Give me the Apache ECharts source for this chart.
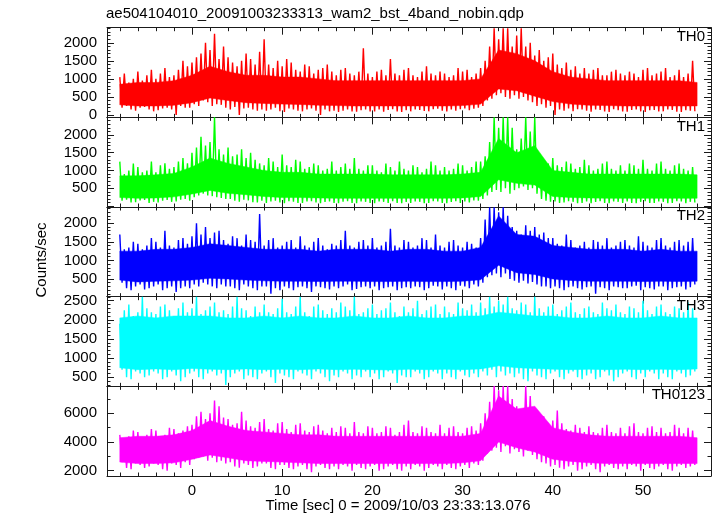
<!DOCTYPE html>
<html>
<head>
<meta charset="utf-8">
<script src="https://cdn.jsdelivr.net/npm/echarts@6/dist/echarts.min.js"></script>
<style>html,body{margin:0;padding:0;background:#fff;}#c{width:717px;height:516px;}</style>
</head>
<body>
<div id="c"></div>
<script>
// ---- data (counts/sec) ----
// spike tips: half-second slots from t=-8 s; upper tip at slot start, lower tip at slot middle
// dense core: upper / lower edge every 2 s from t=-8 s
const fileTitle = 'ae504104010_20091003233313_wam2_bst_4band_nobin.qdp';
const xTitle = 'Time [sec] 0 = 2009/10/03 23:33:13.076';
const yTitle = 'Counts/sec';
const bandNames = ['TH0', 'TH1', 'TH2', 'TH3', 'TH0123'];
const tStart = -8;
const tStep = 0.5;
const coreStep = 2;
const xTickLabels = [0, 10, 20, 30, 40, 50];

const th0Hi = [
 1050, 1150, 900, 1000, 1200, 950, 1100, 1250,
 1000, 1150, 1300, 1050, 1100, 1250, 1500, 1350,
 1450, 1600, 1700, 2000, 1800, 2250, 1550, 1900,
 1600, 1450, 1350, 1500, 1700, 1550, 1400, 1750,
 2100, 1400, 1300, 1500, 1350, 1550, 1450, 1250,
 1200, 1400, 1350, 1150, 1250, 1300, 1400, 1200,
 1100, 1250, 1300, 1150, 1100, 1200, 1850, 1150,
 1050, 1200, 1250, 1100, 1550, 1150, 1100, 1250,
 1300, 1100, 1050, 1200, 1350, 1150, 1100, 1200,
 1150, 1050, 1100, 1300, 1200, 1250, 1050, 1150,
 1300, 1500, 1900, 2400, 2100, 2400, 2400, 1900,
 2200, 2400, 1900, 2000, 1650, 1800, 1500, 1600,
 1700, 1400, 1300, 1450, 1250, 1350, 1150, 1300,
 1150, 1250, 1300, 1100, 1100, 1200, 1250, 1150,
 1100, 1200, 1150, 1050, 1250, 1300, 1100, 1150,
 1200, 1300, 1050, 1100, 1250, 1050, 1150, 1500
];
const th0Lo = [
 200, 250, 150, 120, 200, 220, 150, 100,
 130, 180, 200, 150, 0, 250, 200, 200,
 300, 250, 400, 350, 250, 300, 280, 200,
 150, 220, 0, 180, 200, 150, 120, 150,
 120, 150, 200, 100, 80, 180, 150, 120,
 100, 150, 180, 120, 0, 150, 100, 120,
 80, 120, 150, 100, 90, 130, 150, 100,
 100, 150, 90, 140, 160, 100, 80, 130,
 100, 150, 140, 110, 100, 160, 170, 120,
 100, 150, 120, 160, 180, 130, 170, 200,
 250, 400, 450, 550, 600, 500, 450, 550,
 450, 500, 400, 350, 250, 300, 200, 250,
 0, 150, 120, 180, 100, 160, 150, 120,
 90, 150, 140, 100, 80, 160, 130, 100,
 90, 140, 150, 100, 80, 130, 140, 100,
 100, 150, 140, 90, 80, 130, 120, 100
];
const th0CoreTop = [850, 900, 900, 950, 1100, 1350, 1200, 1100, 1100, 1050, 1050, 1000, 950, 950, 950, 950, 950, 950, 950, 950, 1000, 1800, 1700, 1500, 1200, 1050, 1000, 950, 950, 950, 950, 950, 900];
const th0CoreBot = [280, 250, 250, 270, 340, 470, 400, 340, 320, 300, 290, 270, 260, 250, 250, 250, 250, 250, 250, 260, 300, 720, 670, 520, 370, 300, 270, 260, 250, 250, 250, 250, 250];

const th1Hi = [
 1250, 900, 1000, 1200, 1100, 950, 1000, 1250,
 950, 1150, 1200, 1050, 1100, 1250, 1350, 1200,
 1500, 1650, 1950, 1700, 1800, 2500, 1600, 1450,
 1650, 1400, 1450, 1600, 1350, 1500, 1300, 1200,
 1150, 1350, 1250, 1100, 1450, 1150, 1100, 1300,
 1250, 1050, 1100, 1200, 1150, 1000, 1050, 1250,
 1000, 1100, 1200, 1050, 1350, 1050, 1000, 1150,
 1150, 1000, 950, 1200, 1100, 1000, 1250, 1050,
 1000, 1150, 1100, 950, 1050, 1250, 1150, 1000,
 1100, 1000, 1050, 1200, 1150, 1000, 1100, 1250,
 1250, 1400, 1800, 2500, 2200, 2500, 2500, 2200,
 1600, 1900, 2500, 2100, 2500, 1400, 1300, 1200,
 1350, 1150, 1100, 1250, 1200, 1050, 1100, 1300,
 1150, 1000, 1050, 1200, 1250, 1050, 1000, 1150,
 1000, 1200, 1150, 1050, 1300, 1050, 1000, 1200,
 1250, 1050, 1000, 1150, 1200, 1050, 1000, 1100
];
const th1Lo = [
 150, 180, 100, 110, 160, 170, 90, 120,
 100, 150, 170, 120, 130, 180, 200, 150,
 250, 300, 350, 300, 280, 250, 230, 200,
 200, 150, 120, 180, 160, 110, 100, 150,
 90, 130, 150, 100, 80, 140, 120, 90,
 90, 130, 140, 100, 80, 120, 130, 90,
 80, 120, 140, 90, 80, 130, 120, 90,
 80, 130, 120, 90, 140, 90, 80, 120,
 90, 130, 120, 80, 90, 140, 130, 90,
 80, 120, 140, 90, 130, 100, 160, 150,
 200, 300, 400, 450, 400, 500, 350, 450,
 500, 550, 450, 500, 350, 200, 150, 120,
 130, 90, 100, 140, 120, 80, 90, 130,
 80, 120, 140, 90, 80, 130, 120, 90,
 130, 90, 80, 120, 140, 90, 90, 130,
 120, 80, 90, 140, 130, 80, 120, 100
];
const th1CoreTop = [850, 850, 880, 920, 1100, 1350, 1200, 1100, 1000, 950, 950, 900, 900, 900, 900, 880, 880, 880, 880, 900, 950, 1900, 1500, 1700, 1000, 950, 900, 900, 900, 900, 900, 900, 880];
const th1CoreBot = [240, 220, 230, 260, 340, 440, 360, 320, 270, 240, 240, 230, 220, 220, 220, 220, 220, 220, 220, 230, 270, 740, 640, 590, 270, 240, 230, 220, 220, 220, 220, 220, 220];

const th2Hi = [
 1700, 1300, 1350, 1500, 1450, 1300, 1400, 1600,
 1500, 1350, 1800, 1400, 1350, 1550, 1600, 1450,
 1650, 2000, 1700, 1900, 1600, 1750, 1800, 1550,
 1450, 1650, 1600, 1400, 1700, 1550, 1500, 2250,
 1400, 1550, 1600, 1350, 1400, 1500, 1550, 1350,
 1650, 1400, 1350, 1500, 1600, 1400, 1300, 1450,
 1400, 1550, 1800, 1400, 1350, 1500, 1550, 1400,
 1600, 1350, 1400, 1500, 1850, 1400, 1350, 1550,
 1500, 1350, 1400, 1600, 1550, 1350, 1700, 1400,
 1350, 1500, 1550, 1400, 1350, 1500, 1450, 1350,
 1600, 2100, 2430, 2430, 2300, 2430, 2200, 1900,
 1800, 1700, 1950, 1800, 1900, 1700, 1750, 1600,
 1600, 1450, 1400, 1700, 1550, 1350, 1400, 1500,
 1350, 1550, 1500, 1400, 1600, 1350, 1400, 1500,
 1550, 1400, 1350, 1650, 1500, 1400, 1350, 1550,
 1600, 1400, 1350, 1500, 1550, 1400, 1500, 1600
];
const th2Lo = [
 400, 250, 200, 300, 350, 220, 250, 300,
 350, 200, 250, 300, 150, 250, 300, 250,
 350, 300, 400, 350, 300, 250, 350, 300,
 300, 250, 200, 350, 300, 250, 200, 300,
 300, 100, 250, 200, 300, 250, 200, 280,
 300, 250, 150, 300, 280, 250, 220, 300,
 250, 300, 350, 200, 230, 280, 300, 250,
 300, 200, 250, 280, 300, 200, 250, 280,
 250, 300, 280, 200, 250, 320, 300, 220,
 300, 250, 200, 320, 300, 250, 350, 300,
 400, 550, 600, 650, 550, 650, 500, 450,
 400, 450, 380, 420, 350, 300, 300, 250,
 300, 250, 200, 280, 300, 250, 220, 280,
 300, 100, 280, 250, 200, 300, 280, 250,
 250, 300, 320, 200, 280, 250, 220, 300,
 300, 200, 250, 280, 300, 220, 280, 350
];
const th2CoreTop = [1250, 1250, 1300, 1300, 1350, 1450, 1400, 1350, 1300, 1300, 1300, 1250, 1300, 1300, 1300, 1250, 1300, 1300, 1250, 1250, 1350, 2200, 1700, 1650, 1400, 1350, 1300, 1300, 1300, 1250, 1300, 1250, 1250];
const th2CoreBot = [470, 420, 440, 450, 470, 520, 500, 470, 450, 440, 440, 430, 440, 440, 430, 430, 440, 430, 430, 440, 480, 870, 670, 620, 500, 460, 440, 440, 440, 430, 440, 430, 440];

const th3Hi = [
 1900, 2250, 2400, 2100, 2200, 2600, 2300, 2200,
 2150, 2350, 2400, 2250, 2100, 2300, 2450, 2200,
 2300, 2600, 2150, 2250, 2350, 2450, 2200, 2250,
 2150, 2350, 2600, 2300, 2250, 2100, 2350, 2200,
 2400, 2200, 2150, 2300, 2550, 2200, 2150, 2350,
 2600, 2200, 2100, 2350, 2400, 2250, 2150, 2300,
 2200, 2450, 2350, 2250, 2600, 2150, 2200, 2300,
 2400, 2150, 2250, 2300, 2450, 2200, 2100, 2350,
 2200, 2300, 2500, 2150, 2250, 2350, 2400, 2150,
 2350, 2200, 2150, 2450, 2300, 2250, 2400, 2200,
 2450, 2300, 2600, 2350, 2500, 2400, 2600, 2300,
 2250, 2450, 2400, 2200, 2600, 2300, 2200, 2350,
 2400, 2150, 2250, 2350, 2450, 2200, 2150, 2300,
 2350, 2200, 2150, 2450, 2300, 2250, 2400, 2200,
 2150, 2350, 2300, 2200, 2500, 2250, 2150, 2350,
 2400, 2200, 2150, 2350, 2300, 2200, 2450, 2300
];
const th3Lo = [
 700, 500, 450, 650, 600, 500, 550, 650,
 600, 450, 500, 650, 550, 400, 500, 600,
 650, 500, 450, 600, 650, 550, 600, 300,
 500, 600, 650, 450, 550, 500, 450, 600,
 650, 500, 350, 600, 550, 500, 450, 650,
 600, 550, 450, 650, 600, 500, 400, 550,
 500, 650, 600, 450, 550, 500, 650, 500,
 600, 450, 500, 650, 600, 350, 550, 500,
 500, 650, 600, 450, 500, 650, 600, 450,
 600, 500, 450, 650, 550, 500, 600, 500,
 650, 550, 700, 500, 650, 550, 600, 500,
 600, 450, 400, 650, 550, 500, 450, 600,
 650, 500, 450, 600, 650, 500, 450, 550,
 600, 450, 500, 650, 550, 400, 500, 600,
 650, 500, 450, 600, 500, 650, 600, 450,
 600, 500, 450, 650, 600, 500, 550, 650
];
const th3CoreTop = [2050, 2100, 2050, 2100, 2100, 2100, 2050, 2050, 2100, 2050, 2100, 2050, 2050, 2100, 2050, 2050, 2100, 2050, 2050, 2100, 2100, 2200, 2150, 2100, 2100, 2050, 2050, 2100, 2050, 2050, 2100, 2050, 2050];
const th3CoreBot = [750, 700, 720, 700, 730, 710, 700, 720, 700, 710, 700, 720, 700, 710, 700, 690, 710, 700, 710, 700, 720, 800, 750, 730, 710, 700, 710, 700, 710, 700, 710, 700, 720];

const thSumHi = [
 4500, 4200, 4400, 4800, 4700, 4300, 4500, 4900,
 4800, 4400, 4500, 5000, 4900, 4600, 4800, 5100,
 5200, 5800, 6100, 5600, 6000, 6900, 6500, 5700,
 5600, 5200, 5300, 6100, 5500, 5100, 5000, 5400,
 5600, 4900, 4800, 5300, 5400, 4900, 4700, 5200,
 5300, 4800, 4700, 5100, 5200, 4800, 4600, 5000,
 4700, 5100, 5000, 4600, 5400, 4700, 4600, 5100,
 5000, 4600, 4700, 5100, 5000, 4500, 4700, 5200,
 5500, 4700, 4600, 5100, 5000, 4700, 4600, 5200,
 4600, 5000, 5100, 4700, 4600, 5000, 5100, 4800,
 5300, 6000, 6800, 7900, 7600, 7900, 7900, 7000,
 6500, 6000, 7900, 7200, 6300, 5900, 5800, 5300,
 5500, 6200, 5300, 4900, 4800, 5200, 5000, 4700,
 5100, 4700, 4600, 5000, 5200, 4700, 4600, 5000,
 4600, 5100, 5300, 4700, 4600, 5000, 5100, 4700,
 5000, 4600, 4700, 5200, 5000, 4600, 5000, 4800
];
const thSumLo = [
 2600, 2200, 2100, 2500, 2400, 2200, 2300, 2500,
 2400, 2100, 2000, 2500, 2400, 2200, 2600, 2400,
 2800, 2900, 3000, 2700, 2900, 2600, 2700, 2500,
 2600, 2300, 2200, 2500, 2400, 2200, 2300, 2500,
 2500, 2200, 2100, 2400, 2400, 2200, 2100, 2300,
 2400, 2100, 1900, 2300, 2400, 2200, 2100, 2300,
 2100, 2400, 2300, 2000, 2400, 2200, 2100, 2300,
 2400, 2000, 2100, 2300, 2400, 2100, 2000, 2300,
 2100, 2400, 2300, 2000, 2200, 2400, 2300, 2100,
 2400, 2200, 2100, 2300, 2400, 2200, 2500, 2400,
 2700, 3200, 3400, 3600, 3300, 3700, 3200, 3500,
 3300, 3000, 3400, 3100, 2800, 2600, 2500, 2300,
 2400, 2200, 2100, 2300, 2400, 2000, 2100, 2300,
 2400, 2100, 1900, 2300, 2400, 2200, 2100, 2300,
 2100, 2400, 2300, 2000, 2400, 2200, 2100, 2300,
 2400, 2100, 2000, 2300, 2400, 2200, 2300, 2400
];
const thSumCoreTop = [4300, 4400, 4400, 4500, 4800, 5500, 5100, 4800, 4700, 4600, 4500, 4500, 4400, 4400, 4400, 4400, 4400, 4400, 4400, 4400, 4600, 7200, 6300, 6500, 5000, 4700, 4500, 4400, 4400, 4400, 4400, 4400, 4300];
const thSumCoreBot = [2600, 2500, 2500, 2550, 2800, 3100, 2900, 2700, 2650, 2600, 2550, 2500, 2500, 2500, 2500, 2500, 2500, 2500, 2500, 2550, 2700, 4000, 3600, 3300, 2800, 2650, 2550, 2500, 2500, 2500, 2500, 2500, 2500];

const th0TickLabels = [0, 500, 1000, 1500, 2000];
const th1TickLabels = [500, 1000, 1500, 2000];
const th2TickLabels = [500, 1000, 1500, 2000];
const th3TickLabels = [500, 1000, 1500, 2000, 2500];
const thSumTickLabels = [2000, 4000, 6000];

// ---- layout / style ----
const FONT = 'Liberation Sans, Arial, Helvetica, sans-serif';
const AX = '#1a1a1a';
const X_MIN = -9.42, X_MAX = 57.54;
const GRID_TOP = 27.7, GRID_H = 89.66, GRID_LEFT = 107, GRID_RIGHT = 6;

const panels = [
  {name: bandNames[0], hi: th0Hi, lo: th0Lo, ct: th0CoreTop, cb: th0CoreBot, color: '#ff0000', min: -67, max: 2419, major: 500, minorSplit: 5, labels: th0TickLabels},
  {name: bandNames[1], hi: th1Hi, lo: th1Lo, ct: th1CoreTop, cb: th1CoreBot, color: '#00ff00', min: -26, max: 2495, major: 500, minorSplit: 5, labels: th1TickLabels},
  {name: bandNames[2], hi: th2Hi, lo: th2Lo, ct: th2CoreTop, cb: th2CoreBot, color: '#0000ff', min: 23, max: 2439, major: 500, minorSplit: 5, labels: th2TickLabels},
  {name: bandNames[3], hi: th3Hi, lo: th3Lo, ct: th3CoreTop, cb: th3CoreBot, color: '#00ffff', min: 265, max: 2604, major: 500, minorSplit: 5, labels: th3TickLabels},
  {name: bandNames[4], hi: thSumHi, lo: thSumLo, ct: thSumCoreTop, cb: thSumCoreBot, color: '#ff00ff', min: 1631, max: 7882, major: 2000, minorSplit: 2, labels: thSumTickLabels}
];

function spikePoints(hi, lo) {
  const out = [];
  for (let k = 0; k < hi.length; k++) {
    const t = tStart + k * tStep;
    out.push([t, hi[k]]);
    out.push([t + tStep / 2, lo[k]]);
  }
  return out;
}
function coreRows(top, bot) {
  const out = [];
  for (let j = 0; j < top.length; j++) out.push([tStart + j * coreStep, top[j], bot[j]]);
  return out;
}
function coreRenderer(rowsData, color) {
  return function (params, api) {
    if (params.dataIndex !== 0) return null;
    const pts = [];
    for (let j = 0; j < rowsData.length; j++) pts.push(api.coord([rowsData[j][0], rowsData[j][1]]));
    for (let j = rowsData.length - 1; j >= 0; j--) pts.push(api.coord([rowsData[j][0], rowsData[j][2]]));
    const cs = params.coordSys;
    return {
      type: 'polygon',
      shape: {points: pts},
      clipPath: {type: 'rect', shape: {x: cs.x, y: cs.y, width: cs.width, height: cs.height}},
      style: {fill: color, stroke: color, lineWidth: 0.5}
    };
  };
}

const grid = [], xAxis = [], yAxis = [], series = [], title = [];
title.push({text: fileTitle, left: 106, top: 6, padding: 0,
  textStyle: {fontSize: 15, fontWeight: 'normal', color: '#000', fontFamily: FONT}});

panels.forEach((p, i) => {
  grid.push({left: GRID_LEFT, right: GRID_RIGHT, top: GRID_TOP + i * GRID_H, height: GRID_H});
  const isLast = i === panels.length - 1;
  const xBase = {
    gridIndex: i, type: 'value', min: X_MIN, max: X_MAX,
    minInterval: 10, maxInterval: 10, splitNumber: 6,
    axisLine: {show: true, onZero: false, lineStyle: {color: AX, width: 1}},
    axisTick: {show: true, inside: true, length: 7, lineStyle: {color: AX, width: 1}},
    minorTick: {show: true, splitNumber: 5, length: 3.5, lineStyle: {color: AX, width: 1}},
    splitLine: {show: false}
  };
  xAxis.push(Object.assign({}, xBase, {
    position: 'bottom',
    axisLabel: {show: isLast, margin: 7, fontSize: 15, color: '#000', fontFamily: FONT,
      showMinLabel: true, showMaxLabel: true,
      formatter: v => xTickLabels.includes(v) ? String(v) : ''}
  }));
  xAxis.push(Object.assign({}, xBase, {position: 'top', axisLabel: {show: false}}));
  const yBase = {
    gridIndex: i, type: 'value', min: p.min, max: p.max,
    minInterval: p.major, maxInterval: p.major, splitNumber: 5,
    axisLine: {show: true, onZero: false, lineStyle: {color: AX, width: 1}},
    axisTick: {show: true, inside: true, length: 7, lineStyle: {color: AX, width: 1}},
    minorTick: {show: true, splitNumber: p.minorSplit, length: 3.5, lineStyle: {color: AX, width: 1}},
    splitLine: {show: false}
  };
  yAxis.push(Object.assign({}, yBase, {
    position: 'left',
    axisLabel: {show: true, margin: 10, fontSize: 15, color: '#000', fontFamily: FONT,
      formatter: v => p.labels.includes(v) ? String(v) : ''}
  }));
  yAxis.push(Object.assign({}, yBase, {position: 'right', axisLabel: {show: false}}));
  const core = coreRows(p.ct, p.cb);
  series.push({
    type: 'custom', xAxisIndex: 2 * i, yAxisIndex: 2 * i,
    data: core, renderItem: coreRenderer(core, p.color),
    encode: {x: 0, y: [1, 2]},
    silent: true, animation: false, z: 1
  });
  series.push({
    type: 'line', xAxisIndex: 2 * i, yAxisIndex: 2 * i,
    data: spikePoints(p.hi, p.lo), showSymbol: false, symbol: 'none',
    lineStyle: {color: p.color, width: 1.4}, itemStyle: {color: p.color},
    clip: true, silent: true, animation: false, z: 2
  });
  title.push({text: p.name, right: 12, top: GRID_TOP + i * GRID_H + 1.5, padding: 0,
    textStyle: {fontSize: 15, fontWeight: 'normal', color: '#000', fontFamily: FONT}});
});

const chart = echarts.init(document.getElementById('c'), null, {renderer: 'canvas'});
chart.setOption({
  backgroundColor: '#fff',
  animation: false,
  title: title,
  grid: grid,
  xAxis: xAxis,
  yAxis: yAxis,
  series: series,
  graphic: [
    {type: 'text', x: 42, y: 260, rotation: Math.PI / 2,
      style: {text: yTitle, font: '15px ' + FONT, fill: '#000', textAlign: 'center', textVerticalAlign: 'middle'}},
    {type: 'text', x: 398, y: 506,
      style: {text: xTitle, font: '15px ' + FONT, fill: '#000', textAlign: 'center', textVerticalAlign: 'middle'}}
  ]
});
</script>
</body>
</html>
